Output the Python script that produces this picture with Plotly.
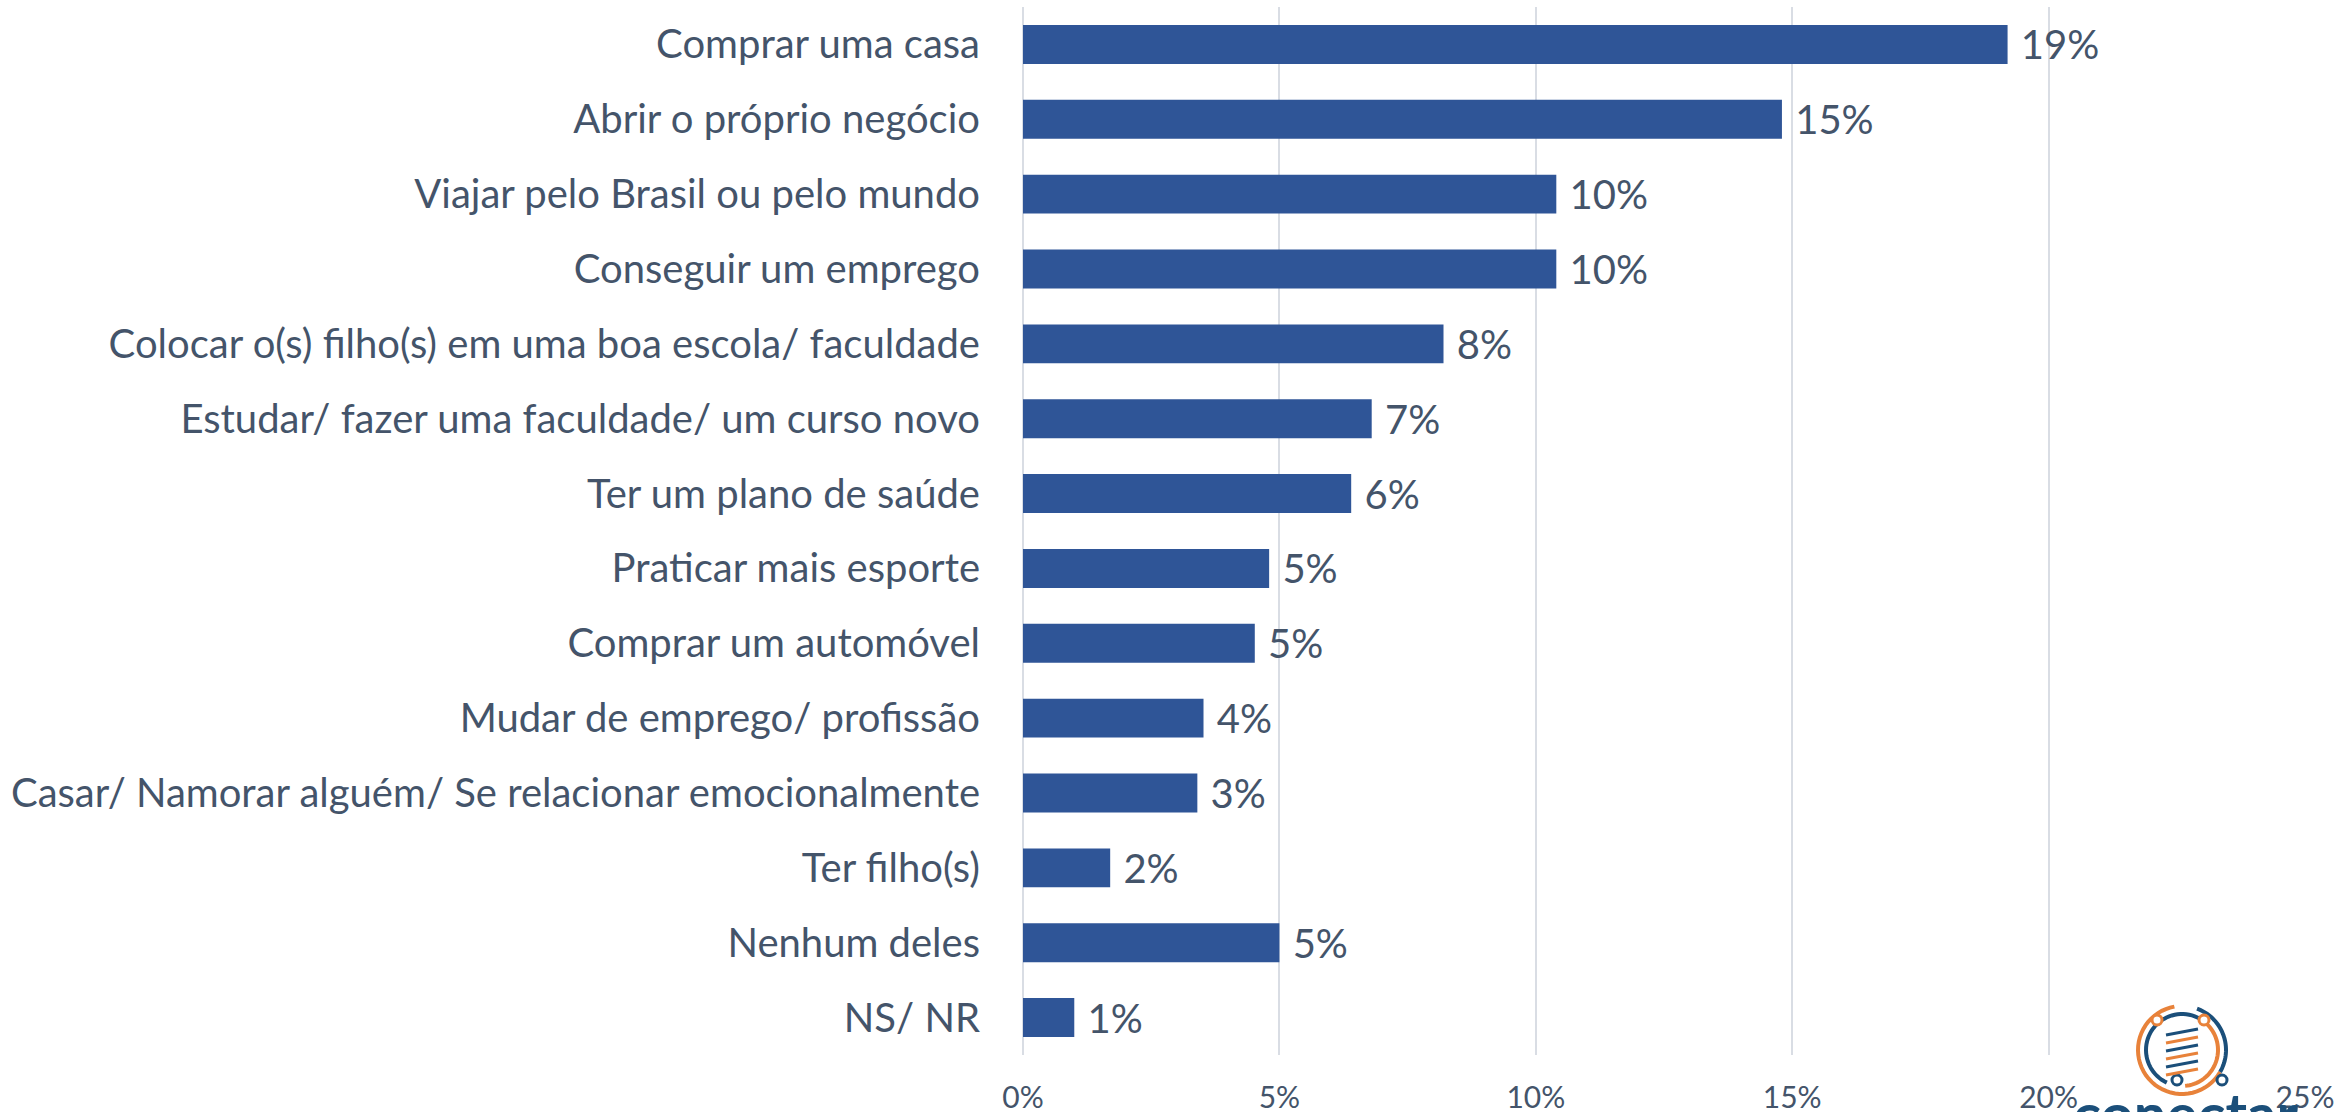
import plotly.graph_objects as go
import math

categories = [
    "Comprar uma casa",
    "Abrir o próprio negócio",
    "Viajar pelo Brasil ou pelo mundo",
    "Conseguir um emprego",
    "Colocar o(s) filho(s) em uma boa escola/ faculdade",
    "Estudar/ fazer uma faculdade/ um curso novo",
    "Ter um plano de saúde",
    "Praticar mais esporte",
    "Comprar um automóvel",
    "Mudar de emprego/ profissão",
    "Casar/ Namorar alguém/ Se relacionar emocionalmente",
    "Ter filho(s)",
    "Nenhum deles",
    "NS/ NR",
]
values = [19.2, 14.8, 10.4, 10.4, 8.2, 6.8, 6.4, 4.8, 4.52, 3.52, 3.4, 1.7, 5.0, 1.0]
tick_vals = [0, 5, 10, 15, 20, 25]
tick_text = ["0%", "5%", "10%", "15%", "20%", "25%"]

W, H = 2336, 1112
ML, MR, MT, MB = 1023, 31, 7, 57
TEXT = "#44546A"
BAR = "#2F5597"
FONT = "Lato"

fig = go.Figure(go.Bar(
    x=values, y=categories, orientation="h",
    marker=dict(color=BAR, line=dict(width=0)),
    width=0.52,
    texttemplate=" %{x:.0f}%", textposition="outside",
    constraintext="none",
    textfont=dict(family=FONT, size=40, color=TEXT),
    cliponaxis=False, hoverinfo="skip",
))

# logo approximation (decorative), in pixel -> paper coords
pw, ph = W - ML - MR, H - MT - MB
def px(x):
    return (x - ML) / pw
def py(y):
    return (H - MB - y) / ph

def arc(cx, cy, r, a0, a1, n=40):
    pts = []
    for i in range(n + 1):
        a = math.radians(a0 + (a1 - a0) * i / n)
        pts.append((px(cx + r * math.cos(a)), py(cy - r * math.sin(a))))
    return "M " + " L ".join(f"{x:.5f},{y:.5f}" for x, y in pts)

shapes = []
cx, cy = 2182, 1050
ORANGE, NAVY = "#E8823A", "#1B4F7A"
shapes.append(dict(type="path", xref="paper", yref="paper", path=arc(cx, cy, 44, 100, 330),
                   line=dict(color=ORANGE, width=4)))
shapes.append(dict(type="path", xref="paper", yref="paper", path=arc(cx, cy, 44, -30, 70),
                   line=dict(color=NAVY, width=4)))
shapes.append(dict(type="path", xref="paper", yref="paper", path=arc(cx, cy, 36, 60, 245),
                   line=dict(color=NAVY, width=4)))
shapes.append(dict(type="path", xref="paper", yref="paper", path=arc(cx, cy, 36, 275, 420),
                   line=dict(color=ORANGE, width=4)))
for (dx, dy, c) in [(-25, -30, ORANGE), (22, -30, ORANGE), (-5, 30, NAVY), (40, 30, NAVY)]:
    r = 5
    shapes.append(dict(type="circle", xref="paper", yref="paper",
                       x0=px(cx + dx - r), x1=px(cx + dx + r), y0=py(cy + dy + r), y1=py(cy + dy - r),
                       line=dict(color=c, width=3), fillcolor="white"))
for i, (off, c) in enumerate([(-18, NAVY), (-10, ORANGE), (-2, NAVY), (6, ORANGE), (14, NAVY), (22, ORANGE)]):
    shapes.append(dict(type="line", xref="paper", yref="paper",
                       x0=px(cx - 16), y0=py(cy + off + 3), x1=px(cx + 16), y1=py(cy + off - 3),
                       line=dict(color=c, width=3)))

fig.update_layout(
    width=W, height=H,
    margin=dict(l=ML, r=MR, t=MT, b=MB, pad=0, autoexpand=False),
    paper_bgcolor="white", plot_bgcolor="white",
    showlegend=False,
    bargap=0.48,
    font=dict(family=FONT, color=TEXT),
    xaxis=dict(range=[0, 25], tickvals=tick_vals, ticktext=tick_text, automargin=False,
               showgrid=True, gridcolor="#D9DDE4", gridwidth=2,
               zeroline=True, zerolinecolor="#D9DDE4", zerolinewidth=2,
               ticks="outside", ticklen=16, tickcolor="rgba(0,0,0,0)",
               tickfont=dict(family=FONT, size=30, color=TEXT), showline=False),
    yaxis=dict(autorange="reversed", showgrid=False, zeroline=False, showline=False, automargin=False,
               ticks="outside", ticklen=34, tickcolor="rgba(0,0,0,0)",
               tickfont=dict(family=FONT, size=40, color=TEXT)),
    shapes=shapes,
    annotations=[dict(text="<b>conectar</b>", xref="paper", yref="paper",
                      x=px(2185), y=py(1076), xanchor="center", yanchor="top",
                      showarrow=False, font=dict(family=FONT, size=58, color=NAVY))],
)

fig.write_html("out.html", config={"displayModeBar": False},
               post_script="document.body.style.margin='0';document.body.style.overflow='hidden';")
